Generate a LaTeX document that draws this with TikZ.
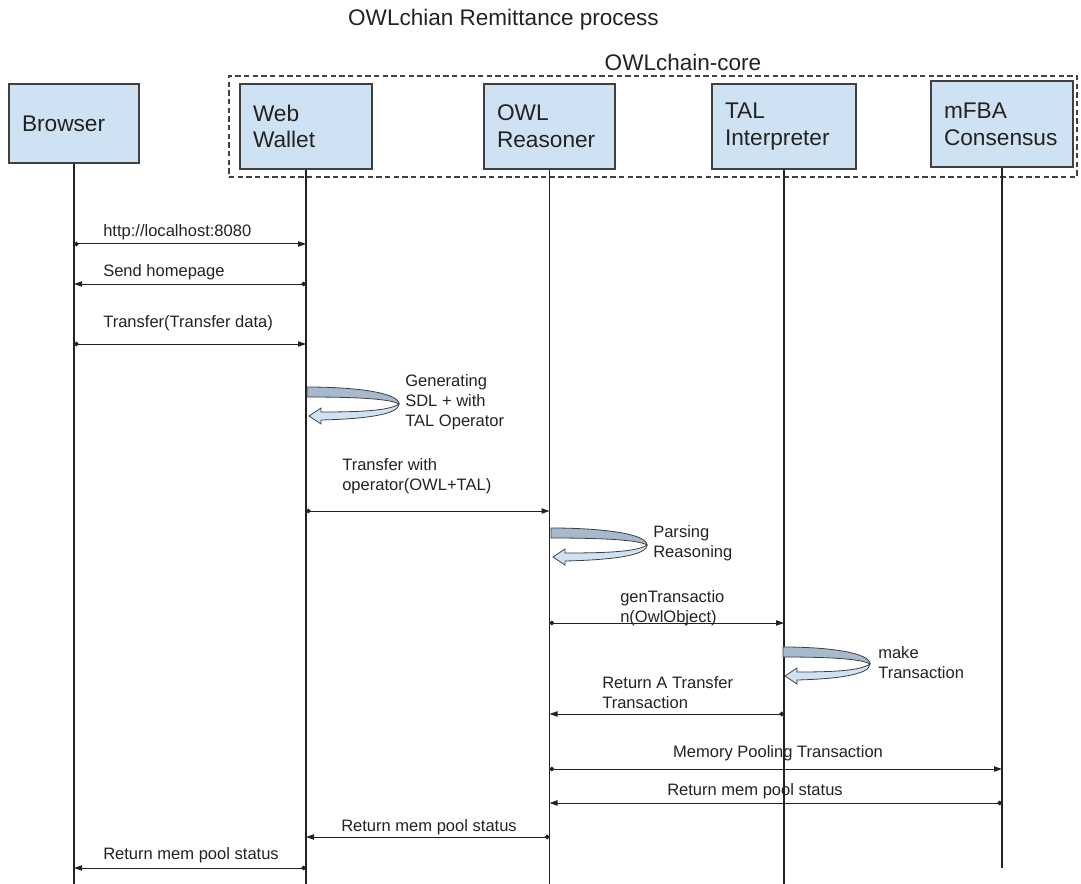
\documentclass[tikz,border=0pt]{standalone}
\usepackage{fontspec}
\setmainfont{Liberation Sans}
\usetikzlibrary{arrows.meta}
\definecolor{boxfill}{HTML}{CFE2F3}
\definecolor{bandfill}{HTML}{A7B9CD}
\definecolor{edgegray}{HTML}{404040}
\definecolor{ink}{HTML}{222222}
\newcommand\selfloop[3]{%
  \begin{scope}[shift={(#1,#2)}]
    \filldraw[fill=bandfill, draw=edgegray, line width=0.6pt]
      (0,0) .. controls (0.55*#3,0) and (#3,6) .. (#3,17)
      .. controls (#3-8,12) and (0.55*#3,10) .. (0,10) -- cycle;
    \filldraw[fill=boxfill, draw=edgegray, line width=0.6pt]
      (#3,17) .. controls (#3,28) and (0.6*#3,32) .. (14,33)
      -- (14,37) -- (2,29) -- (14,21) -- (14,25)
      .. controls (0.55*#3,25) and (#3-10,24) .. (#3,17) -- cycle;
  \end{scope}}
\begin{document}
\begin{tikzpicture}[x=0.75pt,y=-0.75pt,
  box/.style={draw=edgegray, fill=boxfill, line width=0.9pt, inner sep=0pt,
    align=left, font=\fontsize{17}{20}\selectfont, text=ink},
  corebox/.style={draw=edgegray, line width=0.8pt, dash pattern=on 4pt off 2.5pt,
    inner sep=0pt, minimum width=636pt, minimum height=75.75pt},
  lifeline/.style={draw=ink, line width=0.8pt},
  msg/.style={draw=ink, line width=0.75pt,
    {Circle[length=3.5pt]}-{Triangle[length=6pt,width=4pt]}},
  lbl/.style={font=\fontsize{12.4}{15}\selectfont, align=left, inner sep=0pt, text=ink},
  ttl/.style={font=\fontsize{16.9}{20}\selectfont, inner sep=0pt, text=ink}
]
\useasboundingbox (0,0) rectangle (1081,884);

% titles
\node[ttl] (title) at (503.5,20) {OWLchian Remittance process};
\node[ttl] (coretitle) at (683,62) {OWLchain-core};

% dashed group
\node[corebox] (core) at (653,126.5) {};

% participants
\node[box, minimum width=97.5pt, minimum height=59.25pt, text width=78pt]
  (browser) at (74,123.5) {Browser};
\node[box, minimum width=99pt, minimum height=63.75pt, text width=79.5pt]
  (ww) at (306,126.5) {Web\\Wallet};
\node[box, minimum width=98.25pt, minimum height=63.75pt, text width=78.75pt]
  (owl) at (549.5,126.5) {OWL\\Reasoner};
\node[box, minimum width=108pt, minimum height=63.75pt, text width=88.5pt]
  (tal) at (784,126.5) {TAL\\Interpreter};
\node[box, minimum width=106.5pt, minimum height=64.5pt, text width=87pt]
  (mfba) at (1002,124) {mFBA\\Consensus};

% lifelines
\coordinate (bot) at (0,884);
\coordinate (bot2) at (0,868);
\draw[lifeline] (browser.south) -- (browser.south |- bot);
\draw[lifeline] (ww.south) -- (ww.south |- bot);
\draw[lifeline] (owl.south) -- (owl.south |- bot);
\draw[lifeline] (tal.south) -- (tal.south |- bot);
\draw[lifeline] (mfba.south) -- (mfba.south |- bot2);

% message levels
\coordinate (y1) at (0,244);
\coordinate (y2) at (0,284);
\coordinate (y3) at (0,344);
\coordinate (y4) at (0,511);
\coordinate (y5) at (0,623);
\coordinate (y6) at (0,714);
\coordinate (y7) at (0,769);
\coordinate (y8) at (0,803);
\coordinate (y9) at (0,837);
\coordinate (y10) at (0,868);

\draw[msg] (browser.south |- y1) -- (ww.south |- y1);
\node[lbl, anchor=west] (l1) at (103,232) {http://localhost:8080};

\draw[msg] (ww.south |- y2) -- (browser.south |- y2);
\node[lbl, anchor=west] (l2) at (103,272) {Send homepage};

\draw[msg] (browser.south |- y3) -- (ww.south |- y3);
\node[lbl, anchor=west] (l3) at (103,323) {Transfer(Transfer data)};

\selfloop{307}{387}{92}
\node[lbl, anchor=west] (g1) at (405,402) {Generating\\SDL + with\\TAL Operator};

\draw[msg] (ww.south |- y4) -- (owl.south |- y4);
\node[lbl, anchor=west] (l4) at (342,476.5) {Transfer with\\operator(OWL+TAL)};

\selfloop{551}{528}{96}
\node[lbl, anchor=west] (g2) at (653,543) {Parsing\\Reasoning};

\draw[msg] (owl.south |- y5) -- (tal.south |- y5);
\node[lbl, anchor=west] (l5) at (620,608.5) {genTransactio\\n(OwlObject)};

\selfloop{783}{647}{87}
\node[lbl, anchor=west] (g3) at (878,663) {make\\Transaction};

\draw[msg] (tal.south |- y6) -- (owl.south |- y6);
\node[lbl, anchor=west] (l6) at (602,693) {Return A Transfer\\Transaction};

\draw[msg] (owl.south |- y7) -- (mfba.south |- y7);
\node[lbl] (l7) at (778,753) {Memory Pooling Transaction};

\draw[msg] (mfba.south |- y8) -- (owl.south |- y8);
\node[lbl] (l8) at (755,791) {Return mem pool status};

\draw[msg] (owl.south |- y9) -- (ww.south |- y9);
\node[lbl, anchor=west] (l9) at (341,827) {Return mem pool status};

\draw[msg] (ww.south |- y10) -- (browser.south |- y10);
\node[lbl, anchor=west] (l10) at (103,855) {Return mem pool status};
\end{tikzpicture}
\end{document}
